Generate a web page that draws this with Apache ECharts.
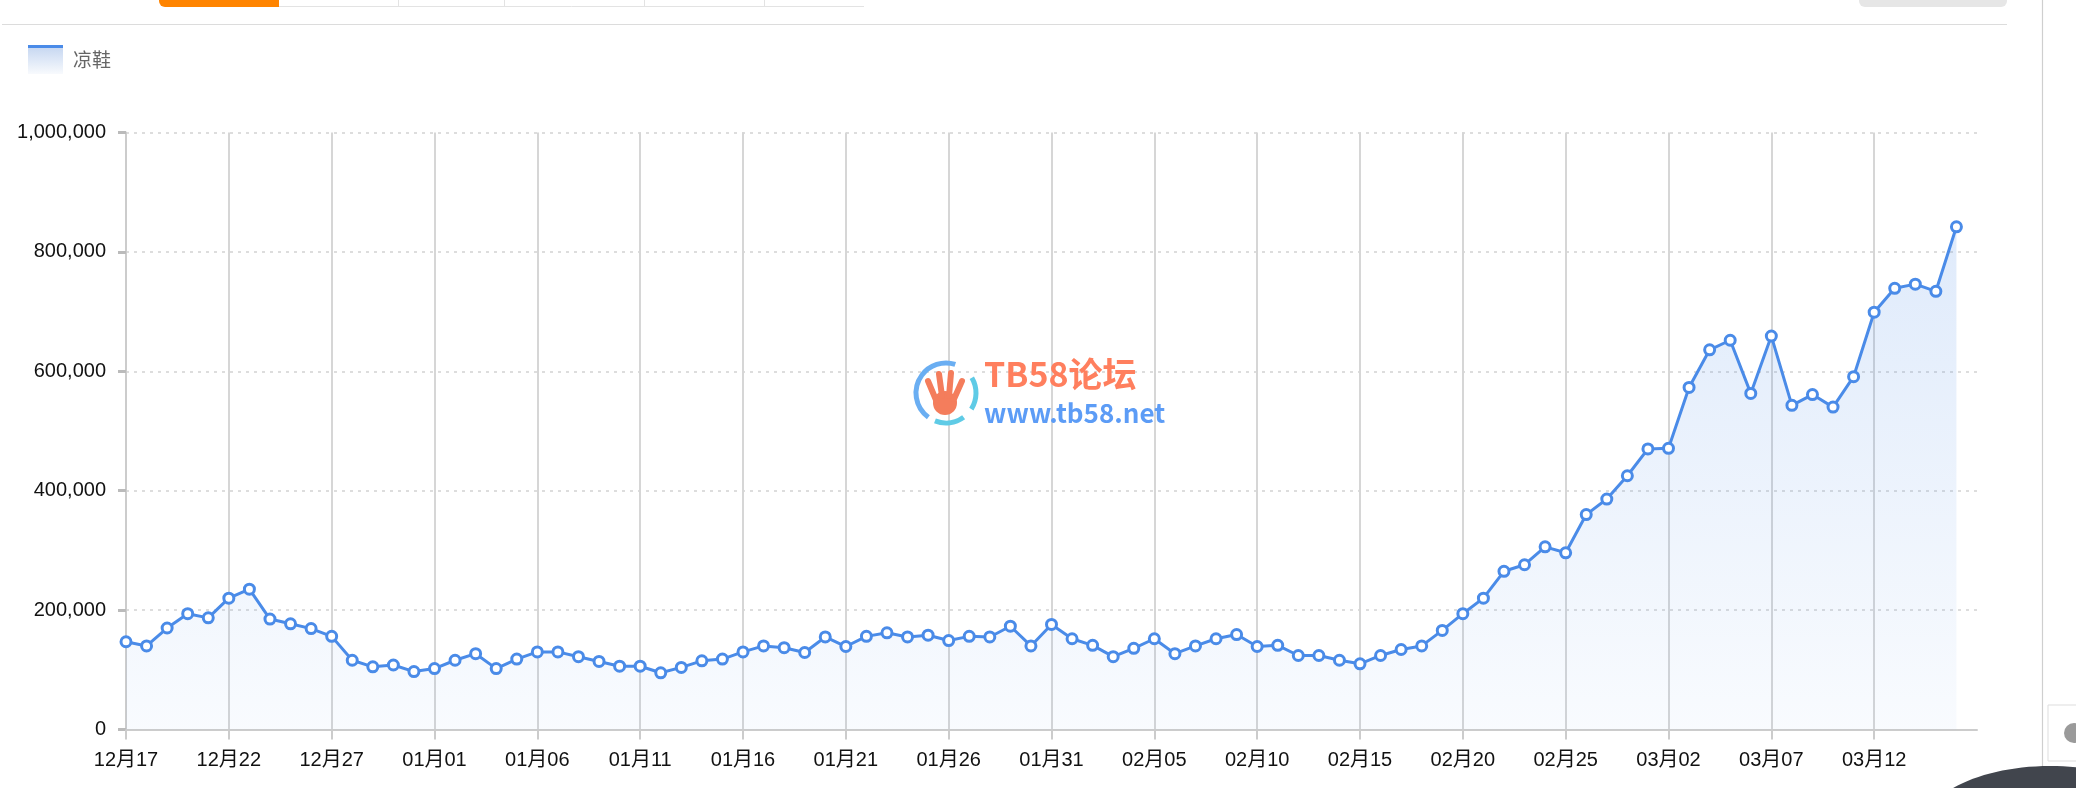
<!DOCTYPE html>
<html>
<head>
<meta charset="utf-8">
<title>凉鞋</title>
<script src="https://cdn.jsdelivr.net/npm/echarts@6.0.0/dist/echarts.min.js"></script>
<style>
  html, body { margin: 0; padding: 0; background: #fff; }
  #chart { width: 2076px; height: 788px; }
</style>
</head>
<body>
<div id="chart"></div>
<script>
const seriesName = '凉鞋'

const categories = [
  '12月17', '12月18', '12月19', '12月20', '12月21', '12月22', '12月23', '12月24', '12月25', '12月26',
  '12月27', '12月28', '12月29', '12月30', '12月31',
  '01月01', '01月02', '01月03', '01月04', '01月05', '01月06', '01月07', '01月08', '01月09', '01月10',
  '01月11', '01月12', '01月13', '01月14', '01月15', '01月16', '01月17', '01月18', '01月19', '01月20',
  '01月21', '01月22', '01月23', '01月24', '01月25', '01月26', '01月27', '01月28', '01月29', '01月30',
  '01月31',
  '02月01', '02月02', '02月03', '02月04', '02月05', '02月06', '02月07', '02月08', '02月09', '02月10',
  '02月11', '02月12', '02月13', '02月14', '02月15', '02月16', '02月17', '02月18', '02月19', '02月20',
  '02月21', '02月22', '02月23', '02月24', '02月25', '02月26', '02月27', '02月28',
  '03月01', '03月02', '03月03', '03月04', '03月05', '03月06', '03月07', '03月08', '03月09', '03月10',
  '03月11', '03月12', '03月13', '03月14', '03月15', '03月16', '03月17',
]

// daily values, last day has no data yet
const values = [
  147000, 140000, 170000, 194000, 187000, 220000, 235000, 185000, 177000, 169000,
  156000, 116000, 105000, 108000, 97000,
  102000, 116000, 127000, 102000, 118000, 130000, 130000, 122000, 114000, 106000,
  106000, 95000, 104000, 115000, 118000, 130000, 140000, 137000, 129000, 155000,
  139000, 156000, 162000, 155000, 158000, 149000, 156000, 155000, 173000, 140000,
  176000,
  152000, 141000, 122000, 136000, 152000, 127000, 140000, 152000, 159000, 139000,
  141000, 124000, 124000, 116000, 110000, 124000, 134000, 140000, 166000, 194000,
  220000, 265000, 276000, 306000, 296000, 360000, 386000, 425000,
  470000, 471000, 573000, 636000, 652000, 563000, 659000, 543000, 561000, 540000,
  591000, 699000, 739000, 746000, 734000, 842000, null,
]

const yTicks = [0, 200000, 400000, 600000, 800000, 1000000]

const blue = '#4a8be8'
const labelFont = "'Liberation Sans', Arial, 'Noto Sans CJK SC', sans-serif"
const lastIndex = categories.length - 1

function everyFifth(index) {
  return index % 5 === 0 && index < lastIndex
}

function pageDecor() {
  // bits of the surrounding page and the site watermark
  return [
    { type: 'rect', shape: { x: 159, y: -6, width: 120, height: 13, r: [0, 0, 0, 6] }, style: { fill: '#ff8400' } },
    { type: 'line', shape: { x1: 279, y1: 6.5, x2: 864, y2: 6.5 }, style: { stroke: '#e3e3e3', lineWidth: 1 } },
    { type: 'line', shape: { x1: 398.5, y1: 0, x2: 398.5, y2: 6 }, style: { stroke: '#e3e3e3', lineWidth: 1 } },
    { type: 'line', shape: { x1: 504.5, y1: 0, x2: 504.5, y2: 6 }, style: { stroke: '#e3e3e3', lineWidth: 1 } },
    { type: 'line', shape: { x1: 644.5, y1: 0, x2: 644.5, y2: 6 }, style: { stroke: '#e3e3e3', lineWidth: 1 } },
    { type: 'line', shape: { x1: 764.5, y1: 0, x2: 764.5, y2: 6 }, style: { stroke: '#e3e3e3', lineWidth: 1 } },
    { type: 'rect', shape: { x: 1859, y: -6, width: 148, height: 13, r: [0, 0, 6, 6] }, style: { fill: '#e6e6e6' } },
    { type: 'line', shape: { x1: 2, y1: 24.5, x2: 2007, y2: 24.5 }, style: { stroke: '#dcdcdc', lineWidth: 1.2 } },
    { type: 'line', shape: { x1: 2042.5, y1: 0, x2: 2042.5, y2: 788 }, style: { stroke: '#cfcfcf', lineWidth: 1.2 } },
    { type: 'rect', shape: { x: 2048, y: 705, width: 40, height: 56 }, style: { fill: '#fff', stroke: '#dddddd', lineWidth: 1 } },
    { type: 'circle', shape: { cx: 2074, cy: 733, r: 10 }, style: { fill: '#9a9a9a' } },
    { type: 'ellipse', shape: { cx: 2050, cy: 832, rx: 130, ry: 66 }, style: { fill: '#41454d' } },
    { type: 'arc', shape: { cx: 946, cy: 393, r: 30, startAngle: Math.PI * 0.7, endAngle: Math.PI * 1.6 }, style: { stroke: '#6aaef2', lineWidth: 5, fill: null }, z: 20 },
    { type: 'arc', shape: { cx: 946, cy: 393, r: 30, startAngle: -Math.PI * 0.17, endAngle: Math.PI * 0.18 }, style: { stroke: '#5fcbe6', lineWidth: 5, fill: null }, z: 20 },
    { type: 'arc', shape: { cx: 946, cy: 393, r: 30, startAngle: Math.PI * 0.3, endAngle: Math.PI * 0.62 }, style: { stroke: '#5fcbe6', lineWidth: 5, fill: null }, z: 20 },
    { type: 'circle', shape: { cx: 945, cy: 403, r: 12 }, style: { fill: '#f47d5c' }, z: 20 },
    { type: 'polyline', shape: { points: [[936, 400], [928, 381]] }, style: { stroke: '#f47d5c', lineWidth: 6, lineCap: 'round' }, z: 20 },
    { type: 'polyline', shape: { points: [[942, 396], [939, 374]] }, style: { stroke: '#f47d5c', lineWidth: 6, lineCap: 'round' }, z: 20 },
    { type: 'polyline', shape: { points: [[949, 396], [951, 373]] }, style: { stroke: '#f47d5c', lineWidth: 6, lineCap: 'round' }, z: 20 },
    { type: 'polyline', shape: { points: [[954, 399], [962, 381]] }, style: { stroke: '#f47d5c', lineWidth: 6, lineCap: 'round' }, z: 20 },
    {
      type: 'text', left: 984, top: 357, z: 20,
      style: { text: 'TB58论坛', fill: '#ff7f5e', font: "bold 34px 'Noto Sans CJK SC', sans-serif" },
    },
    {
      type: 'text', left: 984, top: 400, z: 20,
      style: { text: 'www.tb58.net', fill: '#5c9cf6', font: "bold 26px 'Noto Sans CJK SC', sans-serif" },
    },
  ]
}

function buildOption() {
  return {
    backgroundColor: '#fff',
    animation: false,
    legend: {
      left: 23,
      top: 40,
      icon: 'rect',
      itemWidth: 35,
      itemHeight: 29,
      data: [seriesName],
      itemStyle: {
        borderWidth: 0,
        color: new echarts.graphic.LinearGradient(0, 0, 0, 1, [
          { offset: 0, color: blue },
          { offset: 0.12, color: blue },
          { offset: 0.12, color: '#c9d9f2' },
          { offset: 1, color: '#f8fafd' },
        ]),
      },
      textStyle: {
        color: '#666',
        fontSize: 19,
        fontFamily: "'Noto Sans CJK SC', sans-serif",
        padding: [0, 0, 0, 5],
      },
    },
    grid: {
      left: 126,
      top: 132.5,
      right: 99,
      bottom: 58.5,
      outerBoundsMode: 'none',
    },
    xAxis: {
      type: 'category',
      data: categories,
      boundaryGap: false,
      axisLine: { lineStyle: { color: '#cccccc', width: 2 } },
      axisTick: { show: true, interval: everyFifth, length: 10, lineStyle: { color: '#cccccc', width: 2 } },
      axisLabel: {
        interval: everyFifth,
        margin: 21,
        color: '#111',
        fontSize: 20,
        fontFamily: labelFont,
      },
      splitLine: { show: true, interval: everyFifth, lineStyle: { color: '#d6d6d6', width: 2 } },
    },
    yAxis: {
      type: 'value',
      min: yTicks[0],
      max: yTicks[yTicks.length - 1],
      interval: yTicks[1] - yTicks[0],
      axisLine: { show: true, lineStyle: { color: '#cccccc', width: 2 } },
      axisTick: { show: true, length: 8, lineStyle: { color: '#bbbbbb', width: 3 } },
      axisLabel: {
        margin: 20,
        color: '#111',
        fontSize: 20,
        fontFamily: labelFont,
        formatter: (v) => v.toLocaleString('en-US'),
      },
      splitLine: { lineStyle: { color: '#d2d2d2', width: 1.5, type: [3, 5] } },
    },
    series: [
      {
        name: seriesName,
        type: 'line',
        data: values,
        symbol: 'circle',
        symbolSize: 10,
        showSymbol: true,
        z: 5,
        lineStyle: { color: blue, width: 3 },
        itemStyle: { color: '#fff', borderColor: blue, borderWidth: 3 },
        areaStyle: {
          color: new echarts.graphic.LinearGradient(0, 0, 0, 1, [
            { offset: 0, color: 'rgba(74, 139, 232, 0.25)' },
            { offset: 1, color: 'rgba(74, 139, 232, 0.05)' },
          ]),
        },
      },
    ],
    graphic: pageDecor(),
  }
}

const chart = echarts.init(document.getElementById('chart'))
chart.setOption(buildOption())
window.addEventListener('resize', () => chart.resize())
</script>
</body>
</html>
